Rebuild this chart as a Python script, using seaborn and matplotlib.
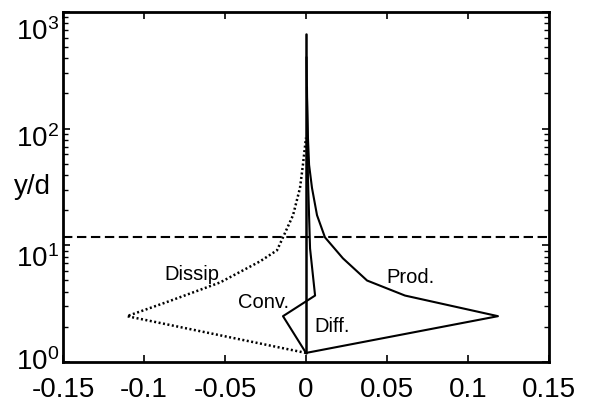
import matplotlib
matplotlib.use("Agg")
import matplotlib.pyplot as plt
from matplotlib.transforms import ScaledTranslation
import seaborn as sns
import pandas as pd

# Budget terms of turbulent kinetic energy against wall distance y/d
prod_y = [1.196, 2.47, 3.71, 4.99, 7.73, 11.7, 18.1, 31.0, 48.9, 83.6, 184, 409]
prod_x = [0.0, 0.1185, 0.0611, 0.0377, 0.0228, 0.0117, 0.0068, 0.0037, 0.0019, 0.0012, 0.0006, 0.0003]

dissip_y = [1.196, 2.47, 3.29, 4.80, 7.28, 9.06, 11.7, 18.1, 31.0, 48.9, 83.6]
dissip_x = [0.0, -0.1105, -0.0852, -0.0531, -0.0284, -0.0179, -0.0142, -0.0080, -0.0037, -0.0019, 0.0]

conv_y = [1.196, 2.47, 3.71, 9.4, 37.9, 226]
conv_x = [0.0, -0.0142, 0.0056, 0.0025, 0.0012, 0.0006]

diff_y = [1.196, 2.47, 3.71, 10.0, 100.0, 646]
diff_x = [0.0, 0.0, 0.0, 0.0, 0.0, 0.0]

edge_y = 11.7  # boundary-layer edge

x_ticks = [-0.15, -0.1, -0.05, 0.0, 0.05, 0.1, 0.15]
x_tick_labels = ["-0.15", "-0.1", "-0.05", "0", "0.05", "0.1", "0.15"]
y_ticks = [1, 10, 100, 1000]
y_tick_labels = [r"$\mathregular{10^{0}}$", r"$\mathregular{10^{1}}$",
                 r"$\mathregular{10^{2}}$", r"$\mathregular{10^{3}}$"]
# vertical nudge (downward) of each y tick label, in points
y_label_drop = [-2.5, 7.0, 5.0, 11.5]

term_names = ["Dissip", "Conv.", "Diff.", "Prod."]
term_label_x = [-0.0704, -0.0265, 0.016, 0.0648]
term_label_y = [5.74, 3.33, 2.04, 5.41]

sns.set_style("ticks", {"axes.edgecolor": "black", "xtick.color": "black",
                        "ytick.color": "black", "text.color": "black",
                        "axes.labelcolor": "black"})
plt.rcParams["font.family"] = ["Liberation Sans", "DejaVu Sans"]
plt.rcParams["mathtext.fontset"] = "custom"
plt.rcParams["mathtext.rm"] = "Liberation Sans"
plt.rcParams["axes.unicode_minus"] = False

fig = plt.figure(figsize=(6.0, 4.02), dpi=100)
ax = fig.add_axes([0.105, 0.097, 0.81, 0.871])

line_kw = dict(sort=False, estimator=None, color="black", ax=ax, legend=False)
sns.lineplot(data=pd.DataFrame({"x": prod_x, "y": prod_y}), x="x", y="y", lw=1.5, **line_kw)
sns.lineplot(data=pd.DataFrame({"x": conv_x, "y": conv_y}), x="x", y="y", lw=1.5, **line_kw)
sns.lineplot(data=pd.DataFrame({"x": diff_x, "y": diff_y}), x="x", y="y", lw=1.8, **line_kw)
sns.lineplot(data=pd.DataFrame({"x": dissip_x, "y": dissip_y}), x="x", y="y",
             lw=1.8, linestyle=(0, (0.8, 1.0)), **line_kw)

ax.axhline(edge_y, color="black", lw=1.5, linestyle=(0, (4.5, 2.2)))

for name, tx, ty in zip(term_names, term_label_x, term_label_y):
    ax.text(tx, ty, name, ha="center", va="center", fontsize=14.5, color="black")

ax.set_yscale("log")
ax.set_xlim(-0.15, 0.15)
ax.set_ylim(1, 1000)
ax.set_xticks(x_ticks)
ax.set_xticklabels(x_tick_labels)
ax.set_yticks(y_ticks)
ax.set_yticklabels(y_tick_labels)
ax.set_xlabel("")
ax.set_ylabel("y/d", rotation=0, fontsize=20, ha="center", va="center", color="black")
ax.yaxis.set_label_coords(-0.062, 0.503)

for s in ax.spines.values():
    s.set_linewidth(2.0)
    s.set_color("black")
    s.set_visible(True)

ax.tick_params(axis="both", which="both", colors="black")
ax.tick_params(axis="both", which="major", direction="in", length=5, width=1.2,
               top=True, right=True, labelsize=20)
ax.tick_params(axis="x", which="major", pad=10)
ax.tick_params(axis="y", which="major", pad=3)
ax.tick_params(axis="y", which="minor", direction="in", length=3.5, width=1.0,
               left=True, right=True)
ax.tick_params(axis="x", which="minor", bottom=False, top=False)

for tick, drop in zip(ax.yaxis.get_major_ticks(), y_label_drop):
    lab = tick.label1
    lab.set_transform(lab.get_transform() + ScaledTranslation(0, -drop / 72, fig.dpi_scale_trans))

fig.savefig("out.png", dpi=100)
